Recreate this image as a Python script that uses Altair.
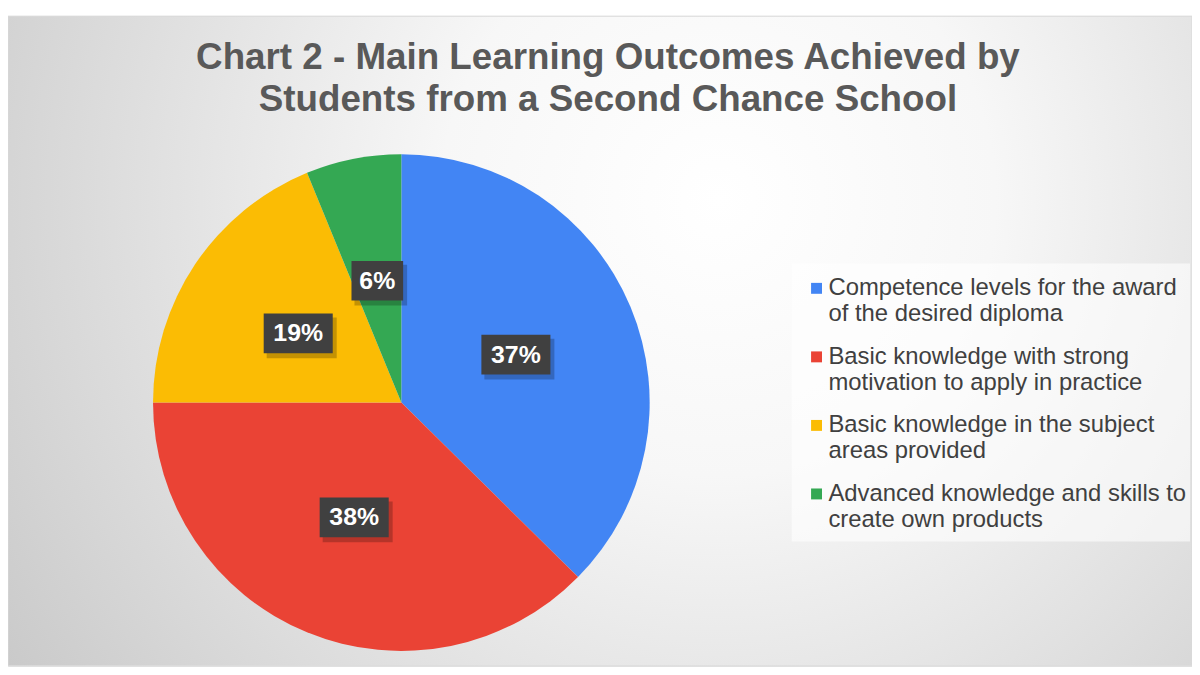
import altair as alt
import pandas as pd

# ---- data ----
categories = [
    "Competence levels for the award\nof the desired diploma",
    "Basic knowledge with strong\nmotivation to apply in practice",
    "Basic knowledge in the subject\nareas provided",
    "Advanced knowledge and skills to\ncreate own products",
]
values = [37.4, 37.6, 18.8, 6.2]
labels = ["37%", "38%", "19%", "6%"]
colors = ["#4285F4", "#EA4335", "#FBBC04", "#34A853"]
title_lines = [
    "Chart 2 - Main Learning Outcomes Achieved by",
    "Students from a Second Chance School",
]

df = pd.DataFrame({"category": categories, "value": values,
                   "label": labels, "order": list(range(len(values)))})

FONT = "Liberation Sans"
W, H = 1192, 654
CX, CY, R = 396, 389, 250
LR = 125

# background with radial gradient
bg = alt.Chart(alt.Data(values=[{}])).mark_rect(
    stroke="#d9d9d9", strokeWidth=1,
    color=alt.RadialGradient(
        gradient="radial", x1=0.6, y1=0.38, x2=0.6, y2=0.38, r1=0, r2=0.78,
        stops=[alt.GradientStop(offset=0, color="#ffffff"),
               alt.GradientStop(offset=0.3, color="#f7f7f7"),
               alt.GradientStop(offset=1, color="#c4c4c4")])
).encode(x=alt.value(0), x2=alt.value("width"), y=alt.value(0), y2=alt.value("height"))

legend_box = alt.Chart(alt.Data(values=[{}])).mark_rect(
    color="#ffffff", opacity=0.6
).encode(x=alt.value(789), x2=alt.value(1190), y=alt.value(249), y2=alt.value(529))

base = alt.Chart(df)

pie = base.mark_arc(radius=R).encode(
    theta=alt.Theta("value:Q", stack=True),
    order=alt.Order("order:Q"),
    color=alt.Color(
        "category:N",
        scale=alt.Scale(domain=categories, range=colors),
        sort=categories,
        title=None,
        legend=alt.Legend(
            orient="none", legendX=802, legendY=262, padding=0,
            symbolType="square", symbolSize=121, symbolStrokeWidth=0,
            labelFont=FONT, labelFontSize=24, labelColor="#404040",
            labelLimit=0, labelOffset=0, rowPadding=19,
            labelBaseline="middle",
            labelExpr="split(datum.label, '\\n')",
        ),
    ),
    x=alt.value(CX), y=alt.value(CY),
)

lab = base.transform_window(
    cum="sum(value)", sort=[alt.SortField("order")], frame=[None, 0]
).transform_joinaggregate(total="sum(value)").transform_calculate(
    ang="2*PI*(datum.cum - datum.value/2)/datum.total",
    lx=f"{CX} + {LR}*sin(datum.ang)",
    ly=f"{CY} - {LR}*cos(datum.ang)",
    bw="length(datum.label)*17.5 + 17",
).transform_calculate(
    bx1="datum.lx - datum.bw/2", bx2="datum.lx + datum.bw/2",
    by1="datum.ly - 20", by2="datum.ly + 20",
    sx1="datum.lx - datum.bw/2 + 3", sx2="datum.lx + datum.bw/2 + 4",
    sy1="datum.ly - 20 + 4", sy2="datum.ly + 20 + 5",
)

shadow = lab.mark_rect(color="#000000", opacity=0.22).encode(
    x=alt.X("sx1:Q", scale=None, axis=None), x2="sx2:Q",
    y=alt.Y("sy1:Q", scale=None, axis=None), y2="sy2:Q",
)
box = lab.mark_rect(color="#404040").encode(
    x=alt.X("bx1:Q", scale=None, axis=None), x2="bx2:Q",
    y=alt.Y("by1:Q", scale=None, axis=None), y2="by2:Q",
)
txt = lab.mark_text(font=FONT, fontSize=25, fontWeight="bold", color="#ffffff",
                    align="center", baseline="middle").encode(
    x=alt.X("lx:Q", scale=None, axis=None),
    y=alt.Y("ly:Q", scale=None, axis=None),
    text="label:N",
)

chart = alt.layer(bg, legend_box, pie, shadow, box, txt).properties(
    width=W, height=H,
    autosize=alt.AutoSizeParams(type="none"),
    padding={"top": 6, "left": 0, "right": 0, "bottom": 0},
    title=alt.TitleParams(
        text=title_lines, font=FONT, fontSize=37, fontWeight="bold",
        color="#595959", anchor="middle", frame="group", baseline="top",
        offset=-104, lineHeight=42, dx=8,
    ),
).configure_view(stroke=None).configure(background="#ffffff")

chart.save("out.html", embed_options={"renderer": "svg", "actions": False})
